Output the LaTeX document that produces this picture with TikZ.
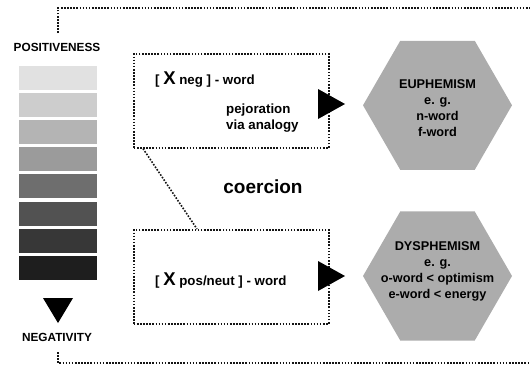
\documentclass[tikz,border=0pt]{standalone}
\usepackage{fontspec}
\setmainfont{Liberation Sans}
\usetikzlibrary{shapes.geometric,calc}
\definecolor{hexgray}{RGB}{172,172,172}
\definecolor{dotgray}{RGB}{20,20,20}
\tikzset{
  dotline/.style={draw=dotgray,line width=1.6pt,dash pattern=on 1.6pt off 1.5pt},
  dotbox/.style={dotline,minimum width=195pt,minimum height=94pt,inner sep=0pt,anchor=north west},
  hexshape/.style={regular polygon,regular polygon sides=6,fill=hexgray,draw=none,minimum size=149pt,inner sep=0pt},
  hextext/.style={align=center,font=\fontsize{12.7}{16}\selectfont\bfseries,inner sep=0pt},
  lbl/.style={font=\fontsize{11.8}{13}\selectfont\bfseries,inner sep=0pt},
  wordtxt/.style={font=\fontsize{13.3}{16}\selectfont\bfseries,inner sep=0pt,anchor=base west},
}
\begin{document}
\begin{tikzpicture}[x=1pt,y=-1pt]
\useasboundingbox (0,0) rectangle (532,372);
% outer bracket
\coordinate (ot1) at (58,33);
\coordinate (ot2) at (58,8);
\coordinate (ot3) at (530,8);
\coordinate (ob1) at (58,352);
\coordinate (ob2) at (58,363);
\coordinate (ob3) at (530,363);
\draw[dotline] (ot1) -- (ot2) -- (ot3);
\draw[dotline] (ob1) -- (ob2) -- (ob3);
% scale
\node[lbl] (pos) at (57,47) {POSITIVENESS};
\foreach \i/\c in {0/225,1/205,2/180,3/155,4/110,5/82,6/55,7/30}{
  \definecolor{barc}{RGB}{\c,\c,\c}
  \fill[barc] (19,{66+27.1*\i}) rectangle (97,{90+27.1*\i});
}
\fill[black] (43,298) -- (73,298) -- (58,323) -- cycle;
\node[lbl] (neg) at (57,337) {NEGATIVITY};
% boxes
\node[dotbox] (b1) at (133,53) {};
\node[dotbox] (b2) at (133,229) {};
\draw[dotline] ($(b1.south west)+(10,0)$) -- ($(b2.north west)+(64,0)$);
\node[wordtxt] (t1) at (155,84) {[ {\fontsize{18.5}{18}\selectfont X} neg ] - word};
\node[wordtxt] (t2) at (226,113) {pejoration};
\node[wordtxt] (t3) at (226,129) {via analogy};
\node[wordtxt] (t4) at (155,285) {[ {\fontsize{18.5}{18}\selectfont X} pos/neut ] - word};
\node[font=\fontsize{19}{20}\selectfont\bfseries,inner sep=0pt] (co) at (263,187) {coercion};
% arrows
\fill[black] (318,89) -- (345,104) -- (318,119) -- cycle;
\fill[black] (318,261) -- (345,276) -- (318,291) -- cycle;
% hexagons
\node[hexshape] (h1) at (437.5,105.3) {};
\node[hexshape] (h2) at (437.5,276) {};
\node[hextext] (h1t) at (437.5,108) {EUPHEMISM\\e. g.\\n-word\\f-word};
\node[hextext] (h2t) at (437.5,271) {DYSPHEMISM\\e. g.\\o-word < optimism\\e-word < energy};
\end{tikzpicture}
\end{document}
